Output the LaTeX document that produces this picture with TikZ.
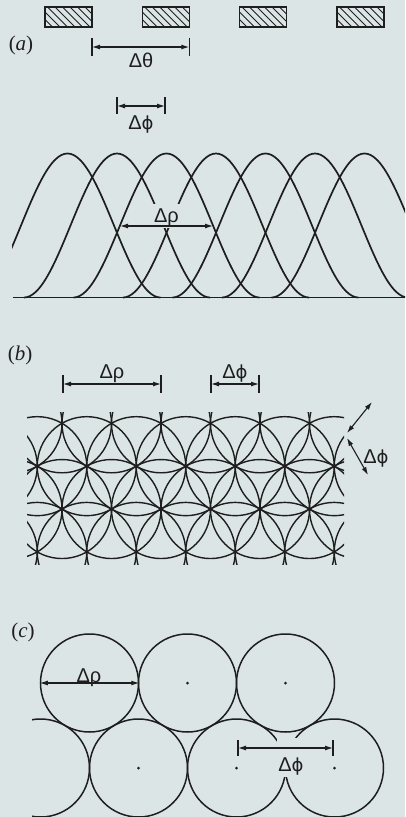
\documentclass[tikz,border=0pt]{standalone}
\usepackage{fontspec}
\setmainfont{Liberation Serif}
\newfontfamily\dimfont{Liberation Sans}
\newfontfamily\phifont{DejaVu Sans}
\usetikzlibrary{calc, arrows.meta}

\definecolor{paper}{RGB}{220,229,230}
\definecolor{ink}{RGB}{30,30,30}
\newcommand{\dphi}{Δ{\phifont\fontsize{18}{22}\selectfont ϕ}}

\begin{document}
\begin{tikzpicture}[x=1pt, y=-1pt, >={Latex[length=8pt,width=5pt]},
    trace/.style={draw=ink, line width=1.7pt},
    net/.style={draw=ink, line width=1.4pt},
    hatch/.style={draw=ink, line width=0.9pt},
    dimline/.style={draw=ink, line width=1.1pt, <->},
    dimbar/.style={draw=ink, line width=1.2pt},
    dimtext/.style={text=ink, font=\dimfont\fontsize{20}{24}\selectfont, inner sep=1pt},
    tag/.style={text=ink, font=\fontsize{21}{24}\selectfont},
    disc/.style={circle, draw=ink, line width=1.5pt, minimum size=98pt, inner sep=0pt}]

        % --- PARAMETERS ---
        \def\slitw{47} \def\slitp{97.3}
        \def\pk{49.5} \def\bw{93}
        \def\lat{49.5}
        \pgfmathsetmacro{\rowh}{\lat*sqrt(3)/2}
        \pgfmathsetmacro{\bk}{180/\bw}

        \fill[paper] (0,0) rectangle (405,817);
        \useasboundingbox (0,0) rectangle (405,817);

        % --- PANEL (A) ---
        \node[tag] (tagA) at (21,45) {(\textit{a})};
        \foreach \k in {0,...,3} {
            \pgfmathsetmacro{\xo}{45+\slitp*\k}
            \begin{scope}
                \clip (\xo,7) rectangle ++(\slitw,20);
                \foreach \h in {-20,-12.5,...,48} \draw[hatch] (\xo+\h,7) -- ++(20,20);
            \end{scope}
            \draw[trace, line width=1.4pt] (\xo,7) rectangle ++(\slitw,20);
        }
        % Delta theta, Delta phi
        \coordinate (thL) at (92,47); \coordinate (thR) at (189.3,47);
        \draw[dimbar] (92,38) -- (92,56);
        \draw[dimbar] (189.3,38) -- (189.3,56);
        \draw[dimline] (thL) -- (thR);
        \node[dimtext, anchor=base] (dtheta) at (141,67) {Δθ};
        \coordinate (phL) at (117,106); \coordinate (phR) at (165,106);
        \draw[dimbar] (117,97) -- (117,114);
        \draw[dimbar] (165,97) -- (165,114);
        \draw[dimline] (phL) -- (phR);
        \node[dimtext, anchor=base] (dphiA) at (141,129) {\dphi};

        % tuning curves
        \begin{scope}
            \clip (12,140) rectangle (405,300);
            \foreach \k in {0,...,6} {
                \pgfmathsetmacro{\pc}{67.5+\pk*\k}
                \pgfmathsetmacro{\pa}{\pc-\bw}
                \pgfmathsetmacro{\pb}{\pc+\bw}
                \draw[trace] plot[domain=\pa:\pb, samples=61, smooth]
                    (\x, {297.5-72*(1+cos(\bk*(\x-\pc)))});
            }
        \end{scope}
        \draw[trace, line width=1.3pt] (13,297.5) -- (405,297.5);
        \node[dimtext, fill=paper, anchor=base, text height=17pt, text depth=5pt] (drhoA) at (166.5,222) {Δρ};
        \coordinate (rhoL) at (120,226); \coordinate (rhoR) at (213,226);
        \draw[dimline] (rhoL) -- (rhoR);

        % --- PANEL (B) ---
        \node[tag] (tagB) at (20,355) {(\textit{b})};
        \coordinate (rbL) at (63,384); \coordinate (rbR) at (161,384);
        \draw[dimbar] (63,375) -- (63,393);
        \draw[dimbar] (161,375) -- (161,393);
        \draw[dimline] (rbL) -- (rbR);
        \node[dimtext, anchor=base] (drhoB) at (112,378) {Δρ};
        \coordinate (pbL) at (211,384); \coordinate (pbR) at (259,384);
        \draw[dimbar] (211,375) -- (211,393);
        \draw[dimbar] (259,375) -- (259,393);
        \draw[dimline] (pbL) -- (pbR);
        \node[dimtext, anchor=base] (dphiB) at (235,378) {\dphi};

        \begin{scope}
            \clip (27,412) rectangle (344,564);
            \foreach \r in {0,...,3} {
                \pgfmathsetmacro{\cy}{423.3+\rowh*\r}
                \pgfmathsetmacro{\cx}{62-24.75*mod(\r,2)}
                \foreach \k in {-2,...,7}
                    \draw[net] ({\cx+\lat*\k},\cy) circle (\lat);
            }
        \end{scope}
        \coordinate (upA) at (347,433); \coordinate (upB) at (372,402);
        \coordinate (dnA) at (347,438); \coordinate (dnB) at (368,475);
        \draw[dimline] (upA) -- (upB);
        \draw[dimline] (dnA) -- (dnB);
        \node[dimtext, anchor=base] (dphiB2) at (376,463) {\dphi};

        % --- PANEL (C) ---
        \node[tag] (tagC) at (23,632) {(\textit{c})};
        \begin{scope}
            \clip (32,600) rectangle (405,817);
            \foreach \n/\cx/\cy in {A/89.5/683, B/187.5/683, C/285.5/683,
                                    L/40.5/768, D/138.5/768, E/236.5/768, F/334.5/768}
                \node[disc] (disc\n) at (\cx,\cy) {};
        \end{scope}
        \foreach \n in {B,C,D,E,F} \fill[ink] (disc\n.center) circle (1.5);

        \draw[dimline] (discA.west) -- (discA.east);
        \node[dimtext, anchor=base] (drhoC) at (89,682) {Δρ};

        \node[dimtext, fill=paper, anchor=base, text height=32pt, text depth=5pt] (dphiC) at (291,771) {\dphi};
        \draw[dimbar] ($(discE.center)+(1.5,-28)$) -- ++(0,16);
        \draw[dimbar] ($(discF.center)+(-1.5,-28)$) -- ++(0,16);
        \draw[dimline] ($(discE.center)+(1.5,-20)$) -- ($(discF.center)+(-1.5,-20)$);
    \end{tikzpicture}
\end{document}
